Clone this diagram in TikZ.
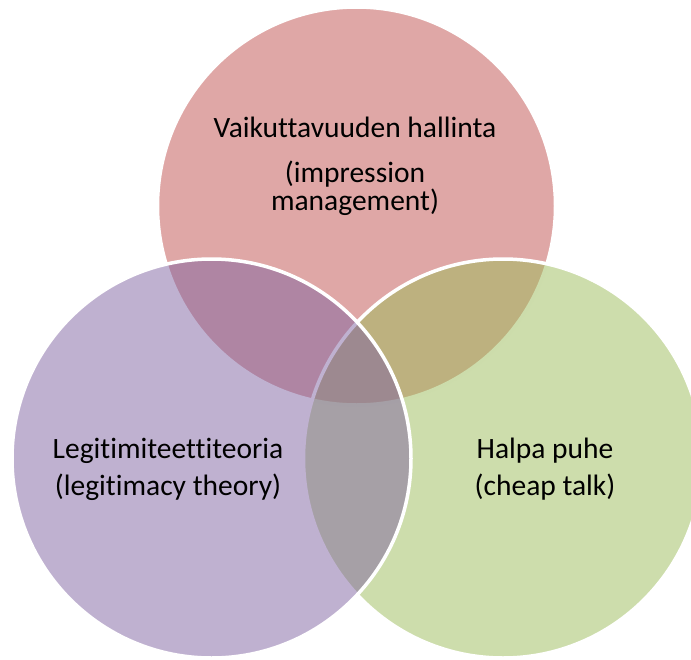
\documentclass[tikz,border=0pt]{standalone}
\usepackage{fontspec}
\setmainfont{Carlito}[Ligatures=NoCommon]
\definecolor{cRed}{HTML}{C0504D}
\definecolor{cPurple}{HTML}{8064A2}
\definecolor{cGreen}{HTML}{9BBB59}
\begin{document}
\begin{tikzpicture}[x=1pt,y=-1pt,
  venn/.style={circle, inner sep=0pt, outer sep=0pt, draw=white, line width=3.5pt, fill opacity=0.5, draw opacity=1},
  lbl/.style={anchor=base, align=center, inner sep=0pt, text=black, font=\fontsize{29.5}{28}\selectfont}]
\useasboundingbox (0,0) rectangle (691,659);
\clip (0,0) rectangle (691,659);
\node[venn, fill=cRed, minimum size=398pt] (top) at (356.5,206) {};
\node[venn, fill=cGreen, minimum size=399pt] (right) at (503,458.5) {};
\node[venn, fill=cPurple, minimum size=399pt] (left) at (211.5,458.5) {};
\node[lbl] (ttop) at (355,210) {Vaikuttavuuden hallinta\\[17pt](impression\\management)};
\node[lbl] (tleft) at (168,495) {Legitimiteettiteoria\\[9pt](legitimacy theory)};
\node[lbl] (tright) at (545,495) {Halpa puhe\\[9pt](cheap talk)};
\end{tikzpicture}
\end{document}
